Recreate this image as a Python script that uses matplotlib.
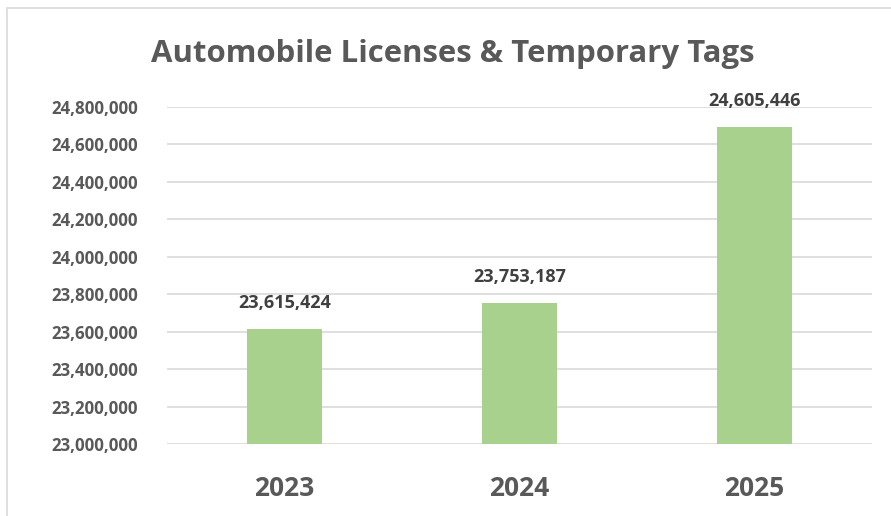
import matplotlib
matplotlib.use("Agg")
import matplotlib.pyplot as plt
from matplotlib.patches import Rectangle
from matplotlib.ticker import FuncFormatter

years = ["2023", "2024", "2025"]
# bar heights as drawn (the 2025 bar sits higher than its label says)
bar_values = [23615424, 23753187, 24693000]
bar_labels = ["23,615,424", "23,753,187", "24,605,446"]
y_ticks = [23000000 + 200000 * i for i in range(10)]

plt.rcParams['font.family'] = ['Open Sans', 'DejaVu Sans']

W, H = 891, 516
fig = plt.figure(figsize=(W / 100, H / 100), dpi=100)

# outer chart frame (cut off on right and bottom)
fig.patches.append(Rectangle((7 / W, -0.1), 2.0, 1.1 - 8 / H, transform=fig.transFigure,
                             fill=False, edgecolor='#D9D9D9', linewidth=1.2))

ax = fig.add_axes([167 / W, 1 - 444 / H, (872 - 167) / W, (444 - 107) / H])
x = range(len(years))
ax.bar(x, bar_values, width=0.315, color='#A9D18E', zorder=3)

for i, (v, lab) in enumerate(zip(bar_values, bar_labels)):
    ax.annotate(lab, (i, v), xytext=(0, 12), textcoords='offset points',
                ha='center', va='bottom', fontsize=13, fontweight='bold', color='#404040')

ax.set_xlim(-0.5, 2.5)
ax.set_ylim(23000000, 24800000)
ax.set_yticks(y_ticks)
ax.yaxis.set_major_formatter(FuncFormatter(lambda v, p: f'{int(v):,}'))
ax.set_xticks(list(x))
ax.set_xticklabels(years)
ax.grid(axis='y', color='#D9D9D9', linewidth=1.2, zorder=0)
for s in ax.spines.values():
    s.set_visible(False)
ax.tick_params(axis='both', length=0)
ax.tick_params(axis='y', labelsize=12.2, labelcolor='#595959', pad=21)
ax.tick_params(axis='x', labelsize=19, labelcolor='#595959', pad=22)
for t in ax.get_yticklabels() + ax.get_xticklabels():
    t.set_fontweight('bold')

fig.text(453 / W, 1 - 54 / H, 'Automobile Licenses & Temporary Tags', ha='center', va='center',
         fontsize=22.4, fontweight='bold', color='#595959')

fig.savefig('out.png', dpi=100, facecolor='white')
